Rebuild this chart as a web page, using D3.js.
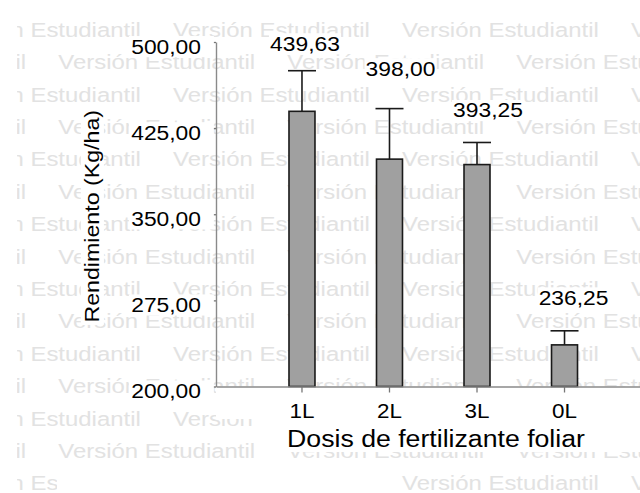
<!DOCTYPE html>
<html>
<head>
<meta charset="utf-8">
<script src="https://cdn.jsdelivr.net/npm/d3@7"></script>
<style>
  html, body { margin: 0; padding: 0; background: #fff; }
  svg { display: block; }
  text { font-family: "Liberation Sans", Arial, Helvetica, sans-serif; }
</style>
</head>
<body>
<svg id="chart" width="640" height="493"></svg>
<script>
// Rendimiento medio por dosis de fertilizante foliar
const categories = ["1L", "2L", "3L", "0L"];
const means = [439.63, 398.00, 393.25, 236.25];
const errorUpper = [475.0, 442.0, 412.5, 248.5];
const yTicks = [200, 275, 350, 425, 500];

// label placement (pixel nudges relative to each error bar top)
const labelLift = [20, 33, 25, 26];
const labelShift = [3, 11, 11, 9];

const W = 640, H = 493;
const svg = d3.select("#chart");
const fmt = d3.formatLocale({ decimal: ",", thousands: ".", grouping: [3], currency: ["", ""] }).format(".2f");

const axisX = 216, yTop = 42, yBottom = 386.5;
const y = d3.scaleLinear().domain([200, 500]).range([yBottom, yTop]);
const x = d3.scaleBand().domain(categories).range([axisX, 650.5])
  .paddingInner(0.703).paddingOuter(0.834);

svg.append("rect").attr("width", W).attr("height", H).attr("fill", "#fff");

// background "Versión Estudiantil" stamp
const clip = svg.append("defs").append("clipPath").attr("id", "wm-clip");
clip.append("rect").attr("x", 17).attr("y", 20).attr("width", W - 17).attr("height", H - 20);
const wm = svg.append("g").attr("clip-path", "url(#wm-clip)");
d3.range(15).forEach(k => {
  const base = 36.7 + 32.4 * k;
  const start = k % 2 === 0 ? -56 : -170.7;
  d3.range(5).forEach(j => {
    wm.append("text")
      .attr("transform", `translate(${start + 229 * j},${base}) scale(1.14,1)`)
      .attr("font-size", 21)
      .attr("fill", "#e2e2e2")
      .text("Versión Estudiantil");
  });
});

// plain white areas of the page layout
const blank = svg.append("g").attr("fill", "#fff");
blank.append("rect").attr("x", axisX).attr("y", yBottom).attr("width", W - axisX).attr("height", 32.5);
blank.append("rect").attr("x", 258).attr("y", 419).attr("width", W - 258).attr("height", 33);
blank.append("rect").attr("x", 57).attr("y", 470).attr("width", 335).attr("height", H - 470);

// text with a white backing box, stretched along its own direction
function boxedText(parent, tx, ty, str, opts) {
  const g = parent.append("g")
    .attr("transform", `translate(${tx},${ty}) rotate(${opts.rotate || 0}) scale(${opts.sx},1)`);
  const r = g.append("rect").attr("fill", "#fff");
  const t = g.append("text")
    .attr("font-size", opts.size)
    .attr("text-anchor", opts.anchor || "middle")
    .attr("fill", "#000")
    .text(str);
  const b = t.node().getBBox();
  const padL = opts.padL != null ? opts.padL : 1, padR = opts.padR != null ? opts.padR : 1;
  r.attr("x", b.x - padL).attr("y", b.y).attr("width", b.width + padL + padR).attr("height", b.height);
  return g;
}

// bars
svg.append("g").selectAll("rect").data(means).join("rect")
  .attr("x", (d, i) => x(categories[i]))
  .attr("y", d => y(d))
  .attr("width", x.bandwidth())
  .attr("height", d => y(200) - y(d))
  .attr("fill", "#a0a0a0")
  .attr("stroke", "#1a1a1a")
  .attr("stroke-width", 1.6);

// error bars (upper whisker)
const capHalf = 14;
const eb = svg.append("g").attr("stroke", "#1a1a1a").attr("stroke-width", 1.6);
means.forEach((m, i) => {
  const cx = x(categories[i]) + x.bandwidth() / 2;
  eb.append("line").attr("x1", cx).attr("x2", cx).attr("y1", y(m)).attr("y2", y(errorUpper[i]));
  eb.append("line").attr("x1", cx - capHalf).attr("x2", cx + capHalf)
    .attr("y1", y(errorUpper[i])).attr("y2", y(errorUpper[i]));
});

// y axis
const tickSx = 1.17;
const yAxis = svg.append("g").attr("transform", `translate(${axisX},0)`)
  .call(d3.axisLeft(y).tickValues(yTicks).tickFormat(fmt).tickSize(9).tickSizeOuter(0));
yAxis.select(".domain").attr("stroke", "#8a8a8a").attr("stroke-width", 1.4);
yAxis.selectAll(".tick line").attr("stroke", "#777").attr("stroke-width", 1.3);
yAxis.selectAll(".tick text").remove();
yAxis.selectAll(".tick").each(function (d) {
  boxedText(d3.select(this), -15, 11, fmt(d), { size: 19.5, sx: tickSx, anchor: "end", padL: 2, padR: 11 });
});

// x axis
const xAxis = svg.append("g").attr("transform", `translate(0,${yBottom})`)
  .call(d3.axisBottom(x).tickSize(6).tickSizeOuter(0));
xAxis.select(".domain").attr("stroke", "#8a8a8a").attr("stroke-width", 1.4);
xAxis.selectAll(".tick line").attr("stroke", "#777").attr("stroke-width", 1.3);
xAxis.selectAll(".tick text")
  .attr("y", 31.5).attr("dy", null)
  .attr("font-size", 19.5)
  .attr("fill", "#000")
  .attr("font-family", null)
  .attr("transform", "scale(1.15,1)");

// value labels
means.forEach((m, i) => {
  const cx = x(categories[i]) + x.bandwidth() / 2 + labelShift[i];
  boxedText(svg, cx, y(errorUpper[i]) - labelLift[i], fmt(m), { size: 19.5, sx: tickSx });
});

// axis titles
boxedText(svg, 99.3, (yTop + yBottom) / 2 + 2, "Rendimiento (Kg/ha)", { size: 20, sx: 1.16, rotate: -90, padL: 2, padR: 2 })
  .select("text").attr("dy", 0);
svg.append("text")
  .attr("transform", "translate(436,446.7) scale(1.16,1)")
  .attr("text-anchor", "middle")
  .attr("font-size", 23)
  .attr("fill", "#000")
  .text("Dosis de fertilizante foliar");
</script>
</body>
</html>
